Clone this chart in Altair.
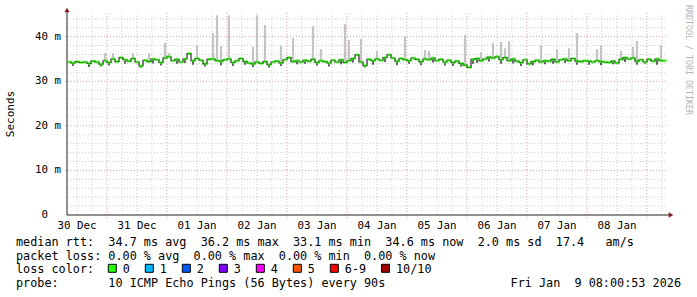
import altair as alt
import pandas as pd
from datetime import datetime, timezone, timedelta

# ---------------- data ----------------
START = datetime(2025, 12, 30, 8, 0, 53, tzinfo=timezone.utc)
END = START + timedelta(days=10)
STEP_MIN = 96  # one median sample every 96 minutes

median_ms = [
    34.3, 34.1, 34.4, 34.2, 34.3, 34.0, 34.5, 34.3, 33.8, 34.6, 34.2, 35.0, 34.4, 35.3, 34.8,
    34.5, 35.1, 34.3, 33.4, 34.7, 34.4, 35.0, 34.8, 34.2, 35.2, 35.5, 34.6, 34.9, 34.3, 35.0,
    36.2, 34.6, 35.1, 34.7, 33.9, 34.9, 35.0, 34.6, 34.5, 34.8, 35.0, 34.2, 34.6, 35.1, 34.4,
    34.1, 33.9, 34.3, 34.0, 34.4, 33.7, 34.3, 34.5, 34.1, 34.8, 35.3, 34.4, 34.6, 34.3, 34.7,
    34.5, 34.9, 34.2, 34.6, 34.4, 34.1, 34.7, 34.3, 34.8, 34.2, 34.6, 35.1, 35.9, 34.3, 33.5,
    34.9, 34.6, 35.0, 34.7, 35.3, 35.9, 35.2, 34.5, 35.1, 34.8, 34.6, 35.2, 34.9, 34.4, 35.0,
    34.8, 35.2, 34.6, 34.9, 34.3, 34.7, 34.2, 34.5, 34.0, 33.6, 33.1, 34.9, 35.1, 34.6, 35.0,
    35.4, 35.2, 35.5, 34.8, 35.3, 34.6, 35.0, 34.5, 34.2, 34.8, 33.9, 34.4, 34.7, 34.3, 34.6,
    34.5, 34.9, 34.3, 34.8, 35.0, 34.6, 35.1, 34.5, 34.4, 34.6, 34.5, 34.3, 34.6, 34.4, 34.3,
    34.2, 34.5, 34.1, 34.9, 35.3, 35.0, 35.2, 34.5, 34.8, 34.3, 34.9, 34.5, 35.0, 34.6, 34.6,
]

# dark downward strokes under the median: sample index and lowest value (ms)
dip_idx = [1, 5, 8, 10, 14, 18, 21, 23, 27, 29, 31, 34, 38, 41, 44, 46, 50, 53, 57, 59,
           62, 65, 68, 71, 74, 76, 79, 82, 85, 88, 91, 94, 96, 98, 101, 102, 105, 108, 111,
           113, 116, 119, 121, 124, 127, 130, 133, 136, 139, 142, 144, 147]
dip_low = [33.4, 33.2, 33.3, 33.5, 33.9, 33.0, 34.0, 33.5, 33.9, 34.1, 33.7, 33.3, 33.6, 33.4,
           33.7, 33.2, 33.1, 33.4, 33.8, 33.9, 33.5, 33.3, 33.8, 34.2, 33.1, 33.7, 34.3, 33.6,
           33.9, 33.6, 34.2, 33.5, 33.4, 33.3, 33.9, 34.1, 34.4, 33.9, 34.0, 33.4, 33.6, 33.8,
           33.9, 34.1, 33.7, 33.7, 33.6, 33.8, 34.3, 33.7, 34.0, 33.7]

# smoke spikes: sample index and top of the smoke (ms)
smoke_idx = [9, 11, 16, 20, 24, 25, 32, 36, 37, 38, 40, 46, 47, 49, 53, 56, 61, 63, 69, 70,
             73, 77, 84, 89, 90, 99, 103, 106, 108, 109, 110, 118, 122, 125, 127, 132, 133,
             138, 141, 142, 148]
smoke_top = [36.3, 36.3, 36.3, 36.3, 38.6, 36.3, 38.1, 40.8, 44.8, 37.9, 44.8, 37.7, 44.8, 42.6,
             37.9, 39.7, 42.4, 37.2, 42.8, 39.2, 39.5, 36.8, 40.1, 37.0, 36.8, 40.4, 36.5, 38.6,
             38.8, 37.4, 39.0, 38.1, 37.2, 37.4, 40.8, 37.2, 38.1, 36.8, 37.7, 39.0, 38.1]

y_ticks = [0, 10, 20, 30, 40]
y_tick_nums = ["0", "10", "20", "30", "40"]
y_unit = "m"
y_minor = [2, 4, 6, 8, 12, 14, 16, 18, 22, 24, 26, 28, 32, 34, 36, 38, 42, 44]
Y_TOP = 45.3

legend_rows = [
    "median rtt:  34.7 ms avg  36.2 ms max  33.1 ms min  34.6 ms now  2.0 ms sd  17.4   am/s",
    "packet loss: 0.00 % avg  0.00 % max  0.00 % min  0.00 % now",
]
loss_title = "loss color:"
loss_labels = ["0", "1", "2", "3", "4", "5", "6-9", "10/10"]
loss_colors = ["#26ff00", "#00b8ff", "#0059ff", "#7e00ff", "#ff00ff", "#ff5500", "#ff0000", "#a10000"]
probe_text = "probe:       10 ICMP Echo Pings (56 Bytes) every 90s"
date_text = "Fri Jan  9 08:00:53 2026"
watermark = "RRDTOOL / TOBI OETIKER"
y_title = "Seconds"


def ms(d):
    return d.timestamp() * 1000.0


NB = "\u00a0"
FONT = "DejaVu Sans Mono"
W, H = 600, 202
PL, PT = 67, 13
AFS = 10.8          # axis font size
ACW = AFS * 0.602   # axis char width

times = [ms(START + timedelta(minutes=STEP_MIN * (i + 0.5))) for i in range(len(median_ms))]
df_med = pd.DataFrame({"t": times, "v": median_ms})
df_dip = pd.DataFrame({
    "t": [times[i] for i in dip_idx],
    "hi": [median_ms[i] for i in dip_idx],
    "lo": dip_low,
})
df_smoke = pd.DataFrame({
    "t": [times[i] for i in smoke_idx],
    "lo": [median_ms[i] for i in smoke_idx],
    "hi": smoke_top,
})

six_h = []
t = datetime(2025, 12, 30, 12, tzinfo=timezone.utc)
while t < END:
    six_h.append(t)
    t += timedelta(hours=6)
major_v = [ms(d) for d in six_h if d.hour == 0]
minor_v = [ms(d) for d in six_h if d.hour != 0]
noon_d = [d for d in six_h if d.hour == 12]
df_xlab = pd.DataFrame({"t": [ms(d) for d in noon_d], "lab": [d.strftime("%d %b") for d in noon_d]})
df_ylab = pd.DataFrame({"y": y_ticks, "lab": y_tick_nums})
df_yunit = pd.DataFrame({"y": [v for v in y_ticks if v != 0], "lab": [y_unit] * 4})

xscale = alt.Scale(type="utc", domain=[ms(START), ms(END)])
yscale = alt.Scale(domain=[0, Y_TOP], nice=False, zero=False)

one = pd.DataFrame({"a": [0]})
GRID_MINOR = "#cdcdcd"
GRID_MAJOR = "#e2a0a0"

# ---------------- grid ----------------
hminor = alt.Chart(pd.DataFrame({"y": y_minor})).mark_rule(
    color=GRID_MINOR, strokeDash=[1, 2], strokeWidth=1
).encode(y=alt.Y("y:Q", scale=yscale, axis=None), x=alt.value(0), x2=alt.value(W))

hmajor = alt.Chart(pd.DataFrame({"y": y_ticks[1:]})).mark_rule(
    color=GRID_MAJOR, strokeDash=[1, 2], strokeWidth=1
).encode(y=alt.Y("y:Q", scale=yscale, axis=None), x=alt.value(-2), x2=alt.value(W))

vminor = alt.Chart(pd.DataFrame({"t": minor_v})).mark_rule(
    color=GRID_MINOR, strokeDash=[1, 2], strokeWidth=1
).encode(x=alt.X("t:T", scale=xscale, axis=None), y=alt.value(0), y2=alt.value(H + 2))

vmajor = alt.Chart(pd.DataFrame({"t": major_v})).mark_rule(
    color=GRID_MAJOR, strokeDash=[1, 2], strokeWidth=1
).encode(x=alt.X("t:T", scale=xscale, axis=None), y=alt.value(0), y2=alt.value(H + 3))

# ---------------- data marks ----------------
smoke = alt.Chart(df_smoke).mark_rule(color="#c4c4c4", strokeWidth=2.2).encode(
    x=alt.X("t:T", scale=xscale, axis=None),
    y=alt.Y("lo:Q", scale=yscale, axis=None),
    y2="hi:Q",
)

line = alt.Chart(df_med).mark_line(color="#111111", strokeWidth=1.1, interpolate="step").encode(
    x=alt.X("t:T", scale=xscale, axis=None),
    y=alt.Y("v:Q", scale=yscale, axis=None),
)

dips = alt.Chart(df_dip).mark_rule(color="#111111", strokeWidth=1.3).encode(
    x=alt.X("t:T", scale=xscale, axis=None),
    y=alt.Y("lo:Q", scale=yscale, axis=None),
    y2="hi:Q",
)

green = alt.Chart(df_med).mark_tick(
    orient="horizontal", color="#26ff00", size=3.4, thickness=2.8
).encode(
    x=alt.X("t:T", scale=xscale, axis=None),
    y=alt.Y("v:Q", scale=yscale, axis=None),
)

# ---------------- axis labels (through the scales) ----------------
xlabels = alt.Chart(df_xlab).mark_text(
    font=FONT, fontSize=AFS, color="#000000", align="center", baseline="alphabetic"
).encode(
    x=alt.X("t:T", scale=xscale, axis=None), y=alt.value(H + 13.5), text="lab:N"
)
ylabels = alt.Chart(df_ylab).mark_text(
    font=FONT, fontSize=AFS, color="#000000", align="right", baseline="middle"
).encode(
    y=alt.Y("y:Q", scale=yscale, axis=None), x=alt.value(-6 - 2 * ACW), text="lab:N"
)
yunits = alt.Chart(df_yunit).mark_text(
    font=FONT, fontSize=AFS, color="#000000", align="right", baseline="middle"
).encode(
    y=alt.Y("y:Q", scale=yscale, axis=None), x=alt.value(-6), text="lab:N"
)

# ---------------- axes lines & arrows ----------------
xaxis_line = alt.Chart(one).mark_rule(color="#222222", strokeWidth=1).encode(
    x=alt.value(0), x2=alt.value(W + 3), y=alt.value(H)
)
yaxis_line = alt.Chart(one).mark_rule(color="#222222", strokeWidth=1).encode(
    x=alt.value(0), y=alt.value(-3), y2=alt.value(H)
)
arrow_r = alt.Chart(one).mark_point(shape="triangle-right", filled=True, color="#8b1a1a", size=28, opacity=1).encode(
    x=alt.value(W + 4), y=alt.value(H)
)
arrow_u = alt.Chart(one).mark_point(shape="triangle-up", filled=True, color="#8b1a1a", size=28, opacity=1).encode(
    x=alt.value(0), y=alt.value(-3)
)

# ---------------- texts ----------------
LFS = 11.8
CW = 7.1
LX = 16 - PL


def txt(s, x, y, size=LFS, align="left", color="#000000", angle=0, baseline="alphabetic"):
    kw = dict(font=FONT, fontSize=size, align=align, baseline=baseline, color=color)
    if angle:
        kw["angle"] = angle
    return alt.Chart(one).mark_text(**kw).encode(
        x=alt.value(x), y=alt.value(y), text=alt.value(s.replace(" ", NB))
    )


texts = [
    txt(legend_rows[0], LX, 246 - PT),
    txt(legend_rows[1], LX, 259.5 - PT),
    txt(loss_title, LX, 273 - PT),
    txt(probe_text, LX, 286.5 - PT),
    txt(date_text, 681 - PL, 286.5 - PT, align="right"),
    txt(watermark, 687.5 - PL, 60 - PT, size=8.3, color="#b4b4b4", angle=90, align="center", baseline="middle"),
    txt(y_title, 11 - PL, 114 - PT, size=11, angle=270, align="center", baseline="middle"),
]

boxes = []
bx = 108.3
for lab, col in zip(loss_labels, loss_colors):
    boxes.append(
        alt.Chart(one).mark_rect(color=col, stroke="#000000", strokeWidth=1).encode(
            x=alt.value(bx - PL), x2=alt.value(bx + 8 - PL),
            y=alt.value(264.3 - PT), y2=alt.value(272.3 - PT),
        )
    )
    texts.append(txt(lab, bx + 14.5 - PL, 273 - PT))
    bx += 37.0 + CW * (len(lab) - 1)

chart = alt.layer(
    hminor, hmajor, vminor, vmajor, smoke, line, dips, green,
    xaxis_line, yaxis_line, arrow_r, arrow_u, xlabels, ylabels, yunits, *boxes, *texts
).properties(
    width=W, height=H,
    autosize=alt.AutoSizeParams(type="none"),
    padding={"left": PL, "top": PT, "right": 697 - PL - W, "bottom": 297 - PT - H},
    background="#ffffff",
).configure_view(strokeWidth=0)

chart.save("out.html", embed_options={"renderer": "svg", "actions": False})
